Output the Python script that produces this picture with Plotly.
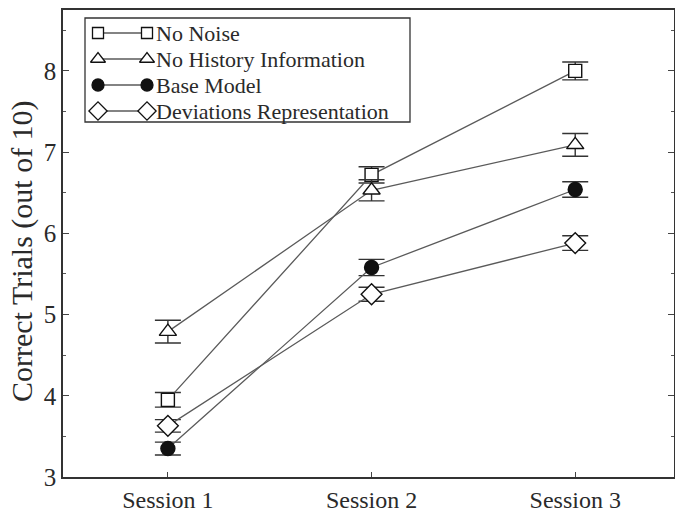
import plotly.graph_objects as go

# ---- data ----
sessions = [1, 2, 3]
session_labels = ["Session 1", "Session 2", "Session 3"]
series_names = ["No Noise", "No History Information", "Base Model", "Deviations Representation"]
no_noise = [3.95, 6.72, 8.00]
no_noise_err = [0.09, 0.10, 0.11]
no_history = [4.79, 6.53, 7.09]
no_history_err = [0.14, 0.13, 0.14]
base_model = [3.35, 5.58, 6.54]
base_model_err = [0.08, 0.10, 0.095]
deviations = [3.63, 5.25, 5.88]
deviations_err = [0.077, 0.086, 0.09]
y_ticks = [3, 4, 5, 6, 7, 8]

FONT = "Liberation Serif, Times New Roman, serif"
INK = "#2a2a2a"
LINE = "#5a5a5a"

styles = [
    dict(symbol="square", size=13, color="white"),
    dict(symbol="triangle-up", size=15, color="white"),
    dict(symbol="circle", size=14, color="#111111"),
    dict(symbol="diamond", size=16, color="white"),
]
values = [no_noise, no_history, base_model, deviations]
errors = [no_noise_err, no_history_err, base_model_err, deviations_err]

fig = go.Figure()
for name, vals, errs, st in zip(series_names, values, errors, styles):
    fig.add_trace(go.Scatter(
        x=sessions, y=vals, name=name, mode="lines+markers",
        line=dict(color=LINE, width=1.3),
        marker=dict(symbol=st["symbol"], size=st["size"], color=st["color"],
                    line=dict(color="#111111", width=1.4)),
        error_y=dict(type="data", array=errs, visible=True, color="#333333",
                     thickness=1.4, width=13),
        showlegend=False,
    ))

# ---- hand-drawn legend (pixel-space overlay axes) ----
legend_rows = [33, 59, 85, 111]
for name, st, ry in zip(series_names, styles, legend_rows):
    fig.add_trace(go.Scatter(
        x=[98, 147], y=[ry, ry], mode="lines+markers", xaxis="x2", yaxis="y2",
        line=dict(color=LINE, width=1.3),
        marker=dict(symbol=st["symbol"], size=st["size"] - 2, color=st["color"],
                    line=dict(color="#111111", width=1.3)),
        showlegend=False, hoverinfo="skip",
    ))
    fig.add_annotation(x=154, y=ry, xref="x2", yref="y2", text=name,
                       showarrow=False, xanchor="left", yanchor="middle",
                       font=dict(family=FONT, size=22, color=INK))

fig.add_shape(type="rect", xref="x2", yref="y2", x0=85, x1=410, y0=18, y1=122,
              line=dict(color="#333333", width=1.3), fillcolor="rgba(0,0,0,0)")

# y-axis title as rotated annotation (positioned in paper space)
fig.add_annotation(x=-0.067, y=0.484, xref="paper", yref="paper",
                   text="Correct Trials (out of 10)", textangle=-90,
                   showarrow=False, xanchor="center", yanchor="middle",
                   font=dict(family=FONT, size=30, color=INK))

fig.update_layout(
    width=675, height=512,
    margin=dict(l=63, r=1, t=10, b=35, autoexpand=False),
    paper_bgcolor="white", plot_bgcolor="white",
    font=dict(family=FONT, color=INK),
    xaxis=dict(
        range=[0.485, 3.485], tickvals=sessions, ticktext=session_labels,
        ticks="inside", ticklen=5, tickcolor="#444444", automargin=False,
        showline=True, linecolor="#333333", linewidth=1.5, mirror=True,
        showgrid=False, zeroline=False, tickfont=dict(size=24, color=INK),
    ),
    yaxis=dict(
        range=[3, 8.75], tickvals=y_ticks, automargin=False,
        ticks="inside", ticklen=6, tickcolor="#444444",
        minor=dict(dtick=0.5, tick0=3, ticks="inside", ticklen=3, tickcolor="#555555"),
        showline=True, linecolor="#333333", linewidth=1.5, mirror="allticks",
        showgrid=False, zeroline=False, tickfont=dict(size=25, color=INK),
    ),
    xaxis2=dict(overlaying="x", range=[63, 674], visible=False, fixedrange=True),
    yaxis2=dict(overlaying="y", range=[477, 10], visible=False, fixedrange=True),
)

fig.write_html(
    "out.html",
    config={"displayModeBar": False},
    post_script="document.body.style.margin='0';document.body.style.overflow='hidden';",
)
